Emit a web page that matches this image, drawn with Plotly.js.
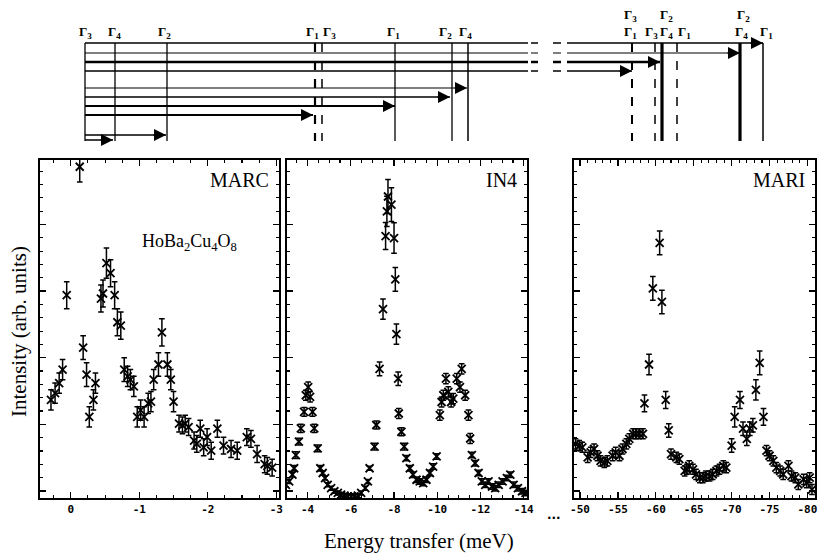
<!DOCTYPE html>
<html><head><meta charset="utf-8">
<script src="https://cdn.plot.ly/plotly-3.0.1.min.js"></script>
<style>html,body{margin:0;padding:0;background:#fff}#plot{width:829px;height:557px}</style>
</head><body><div id="plot"></div>
<script>
// ---------- MARC panel ----------
const marcE = [0.29,0.23,0.17,0.12,0.06,-0.13,-0.18,-0.23,-0.27,-0.33,-0.36,-0.44,-0.47,-0.52,-0.58,-0.64,-0.68,-0.73,-0.78,-0.83,-0.87,-0.92,-0.97,-1.02,-1.07,-1.13,-1.17,-1.21,-1.28,-1.33,-1.41,-1.46,-1.50,-1.58,-1.63,-1.67,-1.72,-1.80,-1.84,-1.89,-1.94,-1.99,-2.05,-2.14,-2.23,-2.34,-2.43,-2.57,-2.63,-2.72,-2.83,-2.87,-2.94];
const marcI = [29,31,34,38,60,98,44.5,36.5,24,29,34,59,60.5,69.5,66.5,60,52,51,38,36,35,33,24,26,24,28,28.5,35,39.5,49,39.5,35,28.5,22,21.5,22,21,17,16,20.5,15,18,14,20.5,15.5,14.5,14,18,17.5,13,10,9.5,9];
const marcErr = [3,3,3,3,4,4.5,3.5,3.5,3,3,3,4,4,4.5,4,4,4,4,3.5,3,3,3,3,3,3,3,3,3,3.5,4,3.5,3,3,2.5,2.5,2.5,2.5,2.5,2.5,2.5,2.5,2.5,2.5,2.5,2.5,2.5,2.5,2.5,2.5,2.5,2.5,2.5,2.5];
const marcTicks = [0,-1,-2,-3];
const marcTickText = ['0','-1','-2','-3'];

// ---------- IN4 panel ----------
const in4E = [-3.0,-3.15,-3.3,-3.38,-3.46,-3.6,-3.69,-3.84,-3.92,-4.03,-4.12,-4.23,-4.31,-4.47,-4.59,-4.70,-4.81,-4.93,-5.09,-5.24,-5.40,-5.55,-5.71,-5.86,-6.02,-6.17,-6.33,-6.48,-6.67,-6.79,-6.87,-7.1,-7.18,-7.33,-7.49,-7.61,-7.67,-7.72,-7.88,-8.0,-8.06,-8.11,-8.19,-8.22,-8.34,-8.47,-8.57,-8.73,-8.88,-9.04,-9.19,-9.35,-9.50,-9.66,-9.81,-9.97,-10.12,-10.2,-10.28,-10.4,-10.51,-10.64,-10.74,-10.9,-11.05,-11.13,-11.29,-11.44,-11.52,-11.6,-11.75,-11.91,-12.06,-12.22,-12.37,-12.53,-12.68,-12.84,-13.02,-13.22,-13.38,-13.53,-13.73,-13.92,-14.08];
const in4I = [3.9,4.9,6.9,8.8,12.7,16.7,20.6,25.5,30.4,32.8,29.9,25.5,20.6,14.7,8.8,7.4,5.9,3.9,2.9,2.0,1.5,1.0,0.7,0.5,0.5,0.5,0.7,1.5,2.9,4.9,8.8,15.2,21.6,38.2,55.9,77.5,84.8,89.2,86.8,76.9,64.7,48.5,35.3,25.0,19.6,15.2,11.8,8.8,6.9,5.4,4.9,4.4,5.4,7.4,9.3,12.3,24.5,28.4,30.4,35.3,31.4,28.4,29.4,35.3,32.8,38.2,30.4,24.5,17.6,12.7,10.3,7.4,4.9,3.9,4.9,3.4,2.9,3.9,4.9,5.9,6.9,3.9,2.9,2.0,1.5];
const in4Err = [0.6,0.6,0.7,0.8,1,1,1.2,1.3,1.5,1.5,1.5,1.3,1.2,1,0.8,0.6,0.6,0.6,0.6,0.6,0.6,0.6,0.6,0.6,0.6,0.6,0.6,0.6,0.6,0.6,0.6,1,1.2,2,3,4,4.5,5,5,4.5,3.5,3,2,1.5,1.2,1,0.8,0.8,0.8,0.8,0.8,0.8,0.8,0.8,0.8,0.8,1.5,1.5,1.5,1.5,1.5,1.5,1.5,1.5,1.5,1.5,1.5,1.5,1.5,0.8,0.8,0.8,0.8,0.8,0.8,0.8,0.8,0.8,0.8,0.8,0.8,0.8,0.8,0.8,0.8];
const in4Ticks = [-4,-6,-8,-10,-12,-14];
const in4TickText = ['-4','-6','-8','-10','-12','-14'];

// ---------- MARI panel ----------
const mariE = [-49.4,-49.9,-50.3,-51.0,-51.4,-51.85,-52.3,-52.7,-53.2,-53.6,-54.3,-54.7,-55.2,-55.6,-56.1,-56.5,-57.0,-57.4,-57.8,-58.3,-58.5,-59.1,-59.6,-60.5,-60.8,-61.3,-61.7,-62.0,-62.7,-63.1,-63.8,-64.1,-64.4,-64.9,-65.3,-65.8,-66.2,-66.6,-67.1,-67.5,-68.0,-68.4,-68.9,-69.3,-70.0,-70.4,-71.1,-71.5,-72.0,-72.4,-72.8,-73.2,-73.7,-74.2,-74.6,-75.0,-75.5,-75.9,-76.4,-76.8,-77.5,-77.9,-78.4,-78.8,-79.5,-79.9,-80.3,-80.6];
const mariI = [16,15.5,15,12,13.5,14.5,12.5,11,10.5,11,12.5,13.5,12.5,14.5,16,17.5,19,19,19,19,28,39.5,62,75.5,58,29,20,13,12,11.5,8,8.5,9.5,8.5,7,6,6,6.5,6.5,7,8,8.5,9.5,9,15.5,24,29,20.5,17.5,20.5,21.5,32,40,24,14,12.5,11,9,8,7,9.5,6.5,6,4,5.5,4.5,6,2.5];
const mariErr = [1.5,1.5,1.5,1.5,1.5,1.5,1.5,1.5,1.5,1.5,1.5,1.5,1.5,1.5,1.5,1.5,1.5,1.5,1.5,1.5,2.5,3,3.5,3.5,3.5,2.5,2,1.5,1.5,1.5,1.5,1.5,1.5,1.5,1.5,1.5,1.5,1.5,1.5,1.5,1.5,1.5,1.5,1.5,2,3,2.5,2,2,2,2,3,3.5,2.5,1.5,1.5,1.5,1.5,1.5,1.5,1.5,1.5,1.5,1.5,1.5,1.5,1.5,1.5];
const mariTicks = [-50,-55,-60,-65,-70,-75,-80];
const mariTickText = ['-50','-55','-60','-65','-70','-75','-80'];

// ---------- level scheme (schematic units) ----------
const levelLineX = [85,115,167,315,322,395,452,468,632,655,662,677,740,763];
const levelLineDash = ['solid','solid','solid','dash','dash','solid','solid','solid','dash','dash','solid','dash','solid','solid'];
const levelLineW = [1.3,1.3,1.3,2.2,1.5,1.3,1.3,1.5,2,1.5,3.2,1.5,3.2,1.5];
const levelLabels = ['Γ<sub>3</sub>','Γ<sub>4</sub>','Γ<sub>2</sub>','Γ<sub>1</sub>','Γ<sub>3</sub>','Γ<sub>1</sub>','Γ<sub>2</sub>','Γ<sub>4</sub>','Γ<sub>1</sub>','Γ<sub>3</sub>','Γ<sub>4</sub>','Γ<sub>1</sub>','Γ<sub>4</sub>','Γ<sub>1</sub>'];
const levelLabelX = [85,114,164,312,329,393,445,465,630,651,666,684,741,766];
const upperLabels = ['Γ<sub>3</sub>','Γ<sub>2</sub>','Γ<sub>2</sub>'];
const upperLabelX = [630,666,743];
const rowY = [43,53,62,71,88,97,106,115,135,140];
const transEnd = [763,740,660,632,467,450,395,313,166,113];
const rowW = [1.5,1.2,2.6,1.5,1.2,1.3,2,2,1.5,1.5];

const font = 'Liberation Serif';
const tickFont = {family:'DejaVu Sans Mono', size:11, color:'#000', weight:'bold'};

const traces = [];
function panel(E, I, err, xa, ya){
  traces.push({x:E, y:I, xaxis:xa, yaxis:ya, type:'scatter', mode:'markers',
    marker:{symbol:'x-thin', size:8, line:{width:1.8, color:'#000'}, color:'#000'},
    error_y:{type:'data', array:err, visible:true, color:'#000', thickness:1.5, width:2.8},
    hoverinfo:'skip', showlegend:false, cliponaxis:true});
}
panel(marcE, marcI, marcErr, 'x', 'y');
panel(in4E, in4I, in4Err, 'x2', 'y2');
panel(mariE, mariI, mariErr, 'x3', 'y3');

levelLineX.forEach((lx,i)=>{
  traces.push({x:[lx,lx], y:[rowY[0], 141], xaxis:'x4', yaxis:'y4', mode:'lines',
    line:{color:'#000', width:levelLineW[i], dash:levelLineDash[i]}, hoverinfo:'skip', showlegend:false});
});
rowY.forEach((ry,i)=>{
  const start = levelLineX[0], end = transEnd[i];
  let xs=[], ys=[];
  if(end > 567){
    const pts = [[start,528],[531,538],[553,561],[567,end]];
    pts.forEach(p=>{xs.push(p[0],p[1],null); ys.push(ry,ry,null);});
  } else { xs=[start,end]; ys=[ry,ry]; }
  traces.push({x:xs, y:ys, xaxis:'x4', yaxis:'y4', mode:'lines',
    line:{color:'#000', width:rowW[i]}, hoverinfo:'skip', showlegend:false, connectgaps:false});
});

const annotations = [];
rowY.forEach((ry,i)=>{
  annotations.push({x:transEnd[i], y:ry, ax:transEnd[i]-14, ay:ry, xref:'x4', yref:'y4', axref:'x4', ayref:'y4',
    text:'', showarrow:true, arrowhead:2, arrowsize:1.5, arrowwidth:1.6, arrowcolor:'#000'});
});
levelLabels.forEach((t,i)=>{
  annotations.push({x:levelLabelX[i], y:32, xref:'x4', yref:'y4', xanchor:'center', yanchor:'middle', text:t, showarrow:false,
    font:{family:font, size:13, color:'#000', weight:'bold'}});
});
upperLabels.forEach((t,i)=>{
  annotations.push({x:upperLabelX[i], y:15, xref:'x4', yref:'y4', xanchor:'center', yanchor:'middle', text:t, showarrow:false,
    font:{family:font, size:13, color:'#000', weight:'bold'}});
});
annotations.push({xref:'x domain', yref:'y domain', x:0.965, y:0.94, xanchor:'right', yanchor:'middle', text:'MARC', showarrow:false, font:{family:font, size:20, color:'#000'}});
annotations.push({xref:'x domain', yref:'y domain', x:0.42, y:0.755, xanchor:'left', yanchor:'middle', text:'HoBa<sub>2</sub>Cu<sub>4</sub>O<sub>8</sub>', showarrow:false, font:{family:font, size:18, color:'#000'}});
annotations.push({xref:'x2 domain', yref:'y2 domain', x:0.965, y:0.94, xanchor:'right', yanchor:'middle', text:'IN4', showarrow:false, font:{family:font, size:20, color:'#000'}});
annotations.push({xref:'x3 domain', yref:'y3 domain', x:0.965, y:0.94, xanchor:'right', yanchor:'middle', text:'MARI', showarrow:false, font:{family:font, size:20, color:'#000'}});
annotations.push({xref:'paper', yref:'paper', x:419/829, y:(557-541)/557, xanchor:'center', yanchor:'middle', text:'Energy transfer (meV)', showarrow:false, font:{family:font, size:21, color:'#000'}});
annotations.push({xref:'paper', yref:'paper', x:19/829, y:(557-332)/557, xanchor:'center', yanchor:'middle', text:'Intensity (arb. units)', textangle:-90, showarrow:false, font:{family:font, size:21, color:'#000'}});
annotations.push({xref:'paper', yref:'paper', x:554/829, y:(557-515)/557, xanchor:'center', yanchor:'middle', text:'...', showarrow:false, font:{family:'DejaVu Sans', size:12, color:'#000', weight:'bold'}});

function xax(dom, range, tv, tt, minorD){
  return {domain:dom, range:range, tickmode:'array', tickvals:tv, ticktext:tt, ticks:'inside', ticklen:6, tickwidth:1.3,
    tickcolor:'#000', showline:true, linecolor:'#000', linewidth:1.6, mirror:'ticks', showgrid:false, zeroline:false,
    tickfont:tickFont, minor:{dtick:minorD, tick0:0, ticks:'inside', ticklen:3, tickwidth:1.1, tickcolor:'#000', showgrid:false}, fixedrange:true};
}
function yax(anchor){
  return {domain:[59/557, 397/557], range:[0,100], anchor:anchor, tick0:21.8, dtick:19.7, ticks:'inside', ticklen:6, tickwidth:1.3,
    tickcolor:'#000', showticklabels:false, showline:true, linecolor:'#000', linewidth:1.6, mirror:'ticks', showgrid:false, zeroline:false,
    minor:{dtick:3.94, tick0:2.1, ticks:'inside', ticklen:3, tickwidth:1.1, tickcolor:'#000', showgrid:false}, fixedrange:true};
}
const layout = {
  width:829, height:557, margin:{l:0,r:0,t:0,b:0}, paper_bgcolor:'#fff', plot_bgcolor:'rgba(0,0,0,0)', showlegend:false,
  xaxis: Object.assign(xax([40/829,279/829],[0.45,-3.04],marcTicks,marcTickText,0.25),{anchor:'y'}),
  xaxis2: Object.assign(xax([287/829,527/829],[-3.05,-14.15],in4Ticks,in4TickText,0.5),{anchor:'y2'}),
  xaxis3: Object.assign(xax([574/829,815/829],[-49.2,-81.0],mariTicks,mariTickText,1),{anchor:'y3'}),
  yaxis: yax('x'), yaxis2: yax('x2'), yaxis3: yax('x3'),
  xaxis4:{domain:[0,1], range:[0,829], visible:false, anchor:'y4', fixedrange:true},
  yaxis4:{domain:[0.73,1], range:[150.4,0], visible:false, anchor:'x4', fixedrange:true},
  annotations:annotations
};
Plotly.newPlot('plot', traces, layout, {staticPlot:true, displayModeBar:false});
</script></body></html>
